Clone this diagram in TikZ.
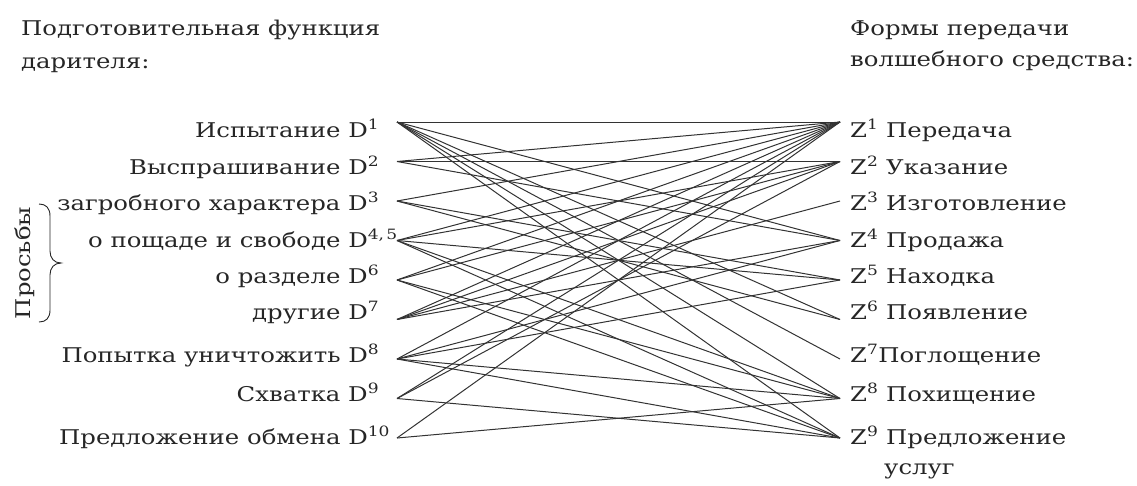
\documentclass[tikz,border=0pt]{standalone}
\usepackage{fontspec}
\setmainfont[FakeStretch=1.2]{DejaVu Serif}
\newcommand{\supmark}[1]{\rlap{\textsuperscript{#1}}}
\begin{document}
\begin{tikzpicture}[x=1pt,y=-1pt,
  txt/.style={font=\fontsize{20.3}{24}\selectfont, inner sep=0pt, text=black!85},
  link/.style={line width=1pt, black!80}]
\useasboundingbox (0,0) rectangle (1137,485);

% column headings
\node[txt, anchor=base west] (hl1) at (21,35) {Подготовительная функция};
\node[txt, anchor=base west] (hl2) at (21,68) {дарителя:};
\node[txt, anchor=base west] (hr1) at (850,35) {Формы передачи};
\node[txt, anchor=base west] (hr2) at (850,66) {волшебного средства:};

% left column: preparatory functions
\node[txt, anchor=base east] (l1) at (368,137) {Испытание D\supmark{1}};
\node[txt, anchor=base east] (l2) at (368,174) {Выспрашивание D\supmark{2}};
\node[txt, anchor=base east] (l3) at (368,210) {загробного характера D\supmark{3}};
\node[txt, anchor=base east] (l4) at (368,247) {о пощаде и свободе D\supmark{4,\,5}};
\node[txt, anchor=base east] (l5) at (368,283) {о разделе D\supmark{6}};
\node[txt, anchor=base east] (l6) at (368,319) {другие D\supmark{7}};
\node[txt, anchor=base east] (l7) at (368,362) {Попытка уничтожить D\supmark{8}};
\node[txt, anchor=base east] (l8) at (368,401) {Схватка D\supmark{9}};
\node[txt, anchor=base east] (l9) at (368,444) {Предложение обмена D\supmark{10}};

% group label with its brace
\node[txt, rotate=90] (req) at (25,263) {Просьбы};
\draw[line width=0.9pt, black!85]
  (39,204) .. controls (46,204) and (50,208) .. (50,216)
  -- (50,251) .. controls (50,258) and (54,263) .. (61,263)
  .. controls (54,263) and (50,268) .. (50,275)
  -- (50,310) .. controls (50,318) and (46,322) .. (39,322);

% right column: forms of transfer
\node[txt, anchor=base west] (r1) at (850,137) {Z\textsuperscript{1} Передача};
\node[txt, anchor=base west] (r2) at (850,174) {Z\textsuperscript{2} Указание};
\node[txt, anchor=base west] (r3) at (850,210) {Z\textsuperscript{3} Изготовление};
\node[txt, anchor=base west] (r4) at (850,247) {Z\textsuperscript{4} Продажа};
\node[txt, anchor=base west] (r5) at (850,283) {Z\textsuperscript{5} Находка};
\node[txt, anchor=base west] (r6) at (850,319) {Z\textsuperscript{6} Появление};
\node[txt, anchor=base west] (r7) at (850,362) {Z\textsuperscript{7}Поглощение};
\node[txt, anchor=base west] (r8) at (850,401) {Z\textsuperscript{8} Похищение};
\node[txt, anchor=base west] (r9) at (850,444) {Z\textsuperscript{9} Предложение};
\node[txt, anchor=base west] (r9b) at (884,474) {услуг};

% connector ends
\foreach \k in {1,...,9}{
  \coordinate (d\k) at (397,{122+39.5*(\k-1)});
  \coordinate (z\k) at (840,{122+39.5*(\k-1)});
}

% links between the two columns
\foreach \a/\b in {1/1,2/1,3/1,4/1,5/1,6/1,7/1,8/1,9/1,
                   1/4,1/6,1/7,1/8,1/9,
                   2/2,2/4,
                   3/5,3/6,
                   4/2,4/5,4/8,4/9,
                   5/2,5/8,5/9,
                   6/2,6/3,6/4,
                   7/4,7/5,7/8,7/9,
                   8/2,8/9,
                   9/8}
  \draw[link] (d\a) -- (z\b);
\end{tikzpicture}
\end{document}
